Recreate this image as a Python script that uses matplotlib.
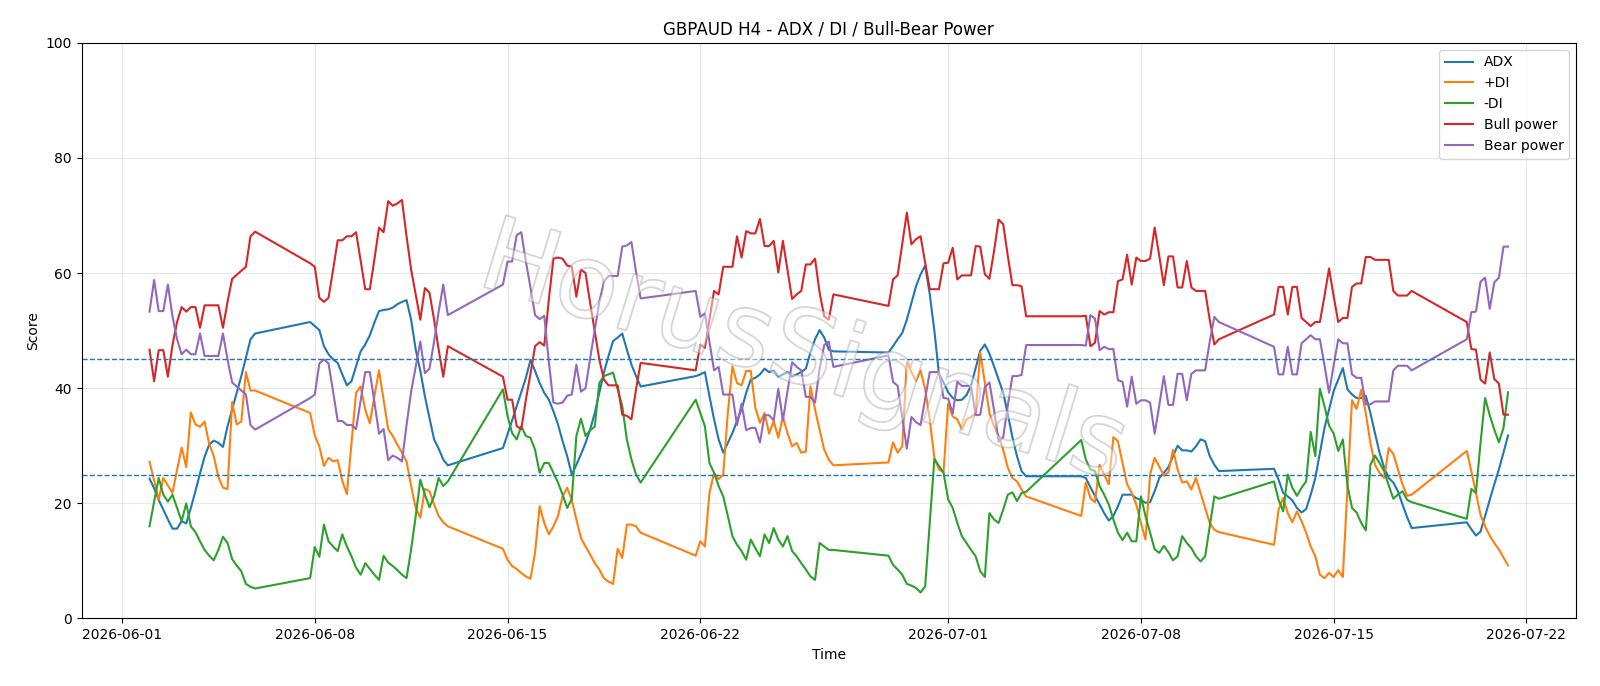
import matplotlib
matplotlib.use("Agg")
import matplotlib.pyplot as plt
import matplotlib.dates as mdates
import matplotlib.patheffects as pe
import pandas as pd

# Each trading-week block of H4 bars: start time and number of bars
week_starts = ["2026-06-02 00:00", "2026-06-07 20:00", "2026-06-14 20:00", "2026-06-21 20:00",
               "2026-06-28 20:00", "2026-07-05 20:00", "2026-07-12 20:00", "2026-07-19 20:00"]
week_bars = [24, 31, 31, 31, 31, 31, 31, 10]

adx = [
    24.3, 22.6, 20.6, 18.9, 17.2, 15.6, 15.6, 16.9, 16.5, 19.2, 22.1, 25.2, 28.1, 30.2, 30.9, 30.5,
    29.8, 33.4, 36.3, 39.2, 42.1, 45.3, 48.5, 49.5,
    51.5, 50.8, 50.1, 47.3, 45.9, 45.0, 44.4, 42.4, 40.5, 41.2, 43.8, 46.4, 47.6, 49.2, 51.4, 53.4,
    53.6, 53.7, 54.0, 54.6, 55.0, 55.3, 51.9, 46.7, 43.0, 38.6, 34.8, 31.1, 29.5, 27.6, 26.6,
    29.6, 32.0, 34.4, 36.9, 39.3, 41.8, 44.9, 43.0, 40.9, 39.2, 38.0, 36.0, 33.7, 30.8, 28.2, 25.0,
    26.7, 28.5, 30.5, 32.8, 35.7, 39.2, 42.7, 45.6, 48.2, 48.8, 49.5, 46.7, 44.1, 42.1, 40.3,
    42.1, 42.4, 42.8, 38.6, 34.6, 31.1, 28.8, 30.5, 32.2, 34.3, 36.3, 39.2, 41.5, 41.8, 42.4, 43.4,
    42.8, 43.1, 42.0, 42.4, 42.8, 42.0, 42.4, 42.8, 43.4, 46.2, 48.5, 50.1, 48.8, 46.7, 46.4,
    46.2, 47.3, 48.5, 49.6, 51.9, 54.8, 57.7, 59.8, 61.3, 56.3, 50.0, 42.5, 41.0, 39.3, 38.3, 37.9,
    38.0, 38.8, 40.5, 43.5, 46.5, 47.6, 46.0, 43.8, 41.5, 39.2, 35.5, 31.5, 28.2, 25.6, 24.7,
    24.7, 24.4, 22.8, 21.3, 19.8, 18.3, 17.0, 17.8, 19.5, 21.5, 21.5, 21.5, 20.9, 20.6, 20.1, 20.2,
    22.1, 24.4, 25.3, 26.3, 28.2, 30.0, 29.2, 29.2, 29.0, 29.9, 31.1, 30.8, 28.2, 26.7, 25.6,
    26.0, 24.1, 21.8, 21.2, 20.5, 19.2, 18.4, 19.0, 21.5, 24.4, 28.8, 33.1, 36.3, 39.5, 41.5, 43.5,
    39.8, 38.9, 38.3, 38.3, 38.7, 35.7, 32.2, 28.8, 26.2, 24.4, 23.6, 22.1, 19.8, 17.6, 15.7,
    16.7, 15.5, 14.4, 15.1, 17.8, 20.6, 23.3, 25.9, 28.8, 31.8,
]

plus_di = [
    27.2, 24.0, 20.6, 24.4, 23.1, 21.8, 25.8, 29.7, 26.3, 35.8, 33.7, 33.3, 34.2, 30.3, 28.2, 24.6,
    22.7, 22.5, 37.6, 33.7, 34.2, 42.8, 39.6, 39.6,
    35.7, 31.8, 29.9, 26.5, 27.9, 27.3, 27.5, 23.9, 21.6, 30.5, 39.2, 40.3, 36.3, 33.9, 38.6, 43.1,
    38.0, 32.9, 31.7, 30.2, 28.8, 27.3, 23.0, 19.2, 17.5, 22.5, 22.1, 19.8, 17.8, 16.7, 16.0,
    12.1, 10.2, 9.1, 8.6, 7.9, 7.3, 6.9, 11.4, 19.5, 16.6, 14.6, 16.0, 17.8, 21.2, 22.7, 20.6,
    17.2, 14.0, 12.5, 11.1, 9.6, 8.5, 7.0, 6.4, 6.0, 12.1, 10.5, 16.3, 16.3, 16.0, 14.9,
    10.9, 13.4, 12.5, 21.8, 25.3, 24.2, 25.0, 35.7, 43.8, 40.9, 40.5, 43.0, 43.0, 36.6, 34.0, 35.7,
    32.1, 34.3, 31.4, 35.0, 32.2, 29.9, 30.5, 28.8, 29.0, 40.3, 36.3, 32.8, 29.3, 27.6, 26.6,
    27.1, 30.6, 28.8, 29.9, 44.5, 42.8, 41.2, 43.1, 39.8, 34.6, 27.9, 25.9, 25.4, 37.3, 35.1, 34.6,
    32.8, 34.6, 35.0, 35.7, 46.2, 40.9, 35.7, 33.4, 31.7, 29.3, 26.2, 24.4, 23.8, 22.4, 21.2,
    17.8, 23.6, 20.9, 20.2, 26.7, 25.0, 23.3, 31.5, 30.8, 27.0, 23.3, 21.8, 19.8, 16.6, 13.7, 25.0,
    27.9, 26.4, 24.8, 25.4, 29.3, 25.9, 23.6, 23.8, 22.4, 24.4, 21.8, 19.2, 16.6, 15.4, 15.0,
    12.8, 18.9, 20.9, 18.3, 16.7, 18.6, 16.9, 14.9, 12.5, 10.8, 7.6, 7.0, 7.9, 7.2, 8.4, 7.2,
    22.7, 37.9, 36.4, 39.7, 35.7, 30.5, 26.7, 25.3, 24.4, 29.6, 28.6, 25.9, 23.3, 21.3, 21.5,
    29.1, 25.6, 21.8, 18.0, 16.0, 14.4, 13.1, 12.0, 10.6, 9.2,
]

minus_di = [
    16.0, 20.3, 24.4, 21.5, 20.3, 21.5, 19.2, 16.9, 20.0, 16.0, 15.0, 13.4, 11.9, 10.9, 10.1, 11.9,
    14.2, 13.1, 10.3, 9.2, 8.2, 6.0, 5.5, 5.2,
    7.0, 12.4, 10.7, 16.3, 13.4, 12.5, 11.7, 14.6, 12.5, 10.8, 8.8, 7.6, 9.6, 8.6, 7.6, 6.7,
    10.9, 9.7, 9.1, 8.4, 7.6, 7.0, 12.0, 17.8, 24.1, 21.5, 19.3, 21.2, 24.4, 23.0, 23.8,
    39.8, 35.2, 32.2, 31.1, 33.4, 31.7, 31.4, 29.3, 25.3, 27.0, 27.0, 25.3, 23.6, 21.5, 19.2, 20.7,
    31.7, 34.7, 31.7, 32.7, 33.3, 40.9, 42.1, 42.4, 42.7, 39.8, 36.9, 31.1, 27.6, 25.0, 23.6,
    38.0, 35.7, 33.4, 27.0, 25.3, 23.0, 21.2, 17.8, 14.3, 12.8, 11.7, 10.2, 13.7, 12.2, 10.8, 14.6,
    13.1, 15.7, 13.7, 12.5, 14.3, 11.7, 10.8, 9.6, 8.5, 7.3, 6.7, 13.1, 12.5, 11.9, 11.9,
    10.9, 9.3, 8.5, 7.6, 6.0, 5.7, 5.3, 4.5, 5.6, 16.6, 27.7, 26.5, 25.3, 20.7, 19.2, 16.6,
    14.3, 13.1, 11.9, 10.8, 8.2, 7.2, 18.3, 17.2, 16.6, 18.9, 21.5, 21.9, 20.4, 21.8, 22.0,
    31.0, 27.6, 25.9, 25.6, 23.0, 21.5, 19.8, 17.2, 14.9, 13.6, 14.9, 13.4, 13.4, 21.2, 17.8, 14.9,
    12.0, 11.4, 12.6, 11.5, 10.1, 10.8, 14.3, 13.1, 12.2, 10.8, 9.9, 10.8, 16.0, 21.2, 20.8,
    23.8, 20.6, 18.6, 25.0, 22.7, 21.3, 22.7, 23.8, 32.4, 28.2, 39.9, 36.9, 33.5, 32.1, 29.1, 31.1,
    23.1, 19.2, 18.4, 16.6, 15.3, 26.7, 28.3, 27.0, 25.6, 23.1, 20.8, 21.5, 22.1, 20.6, 20.2,
    17.3, 22.5, 21.8, 30.5, 38.3, 35.3, 32.8, 30.6, 33.1, 39.3,
]

bull_power = [
    46.7, 41.2, 46.6, 46.6, 42.0, 47.5, 51.5, 54.1, 53.3, 54.1, 54.1, 50.5, 54.4, 54.4, 54.4, 54.4,
    50.5, 55.0, 59.0, 59.7, 60.4, 61.1, 66.4, 67.2,
    61.7, 61.1, 55.7, 55.0, 55.7, 60.6, 65.7, 65.7, 66.4, 66.4, 67.1, 62.1, 57.2, 57.2, 62.4, 67.9,
    67.1, 72.5, 71.7, 72.1, 72.7, 66.4, 60.6, 56.3, 51.9, 57.4, 56.6, 51.9, 46.7, 42.0, 47.3,
    42.0, 38.0, 38.0, 33.4, 32.9, 38.0, 42.5, 47.3, 48.0, 47.4, 55.4, 62.5, 62.7, 62.5, 61.3, 61.1,
    55.9, 60.6, 60.0, 54.8, 49.9, 45.0, 41.5, 40.5, 40.5, 40.5, 35.4, 35.2, 34.6, 39.8, 44.4,
    43.1, 47.6, 47.0, 51.9, 56.9, 56.3, 61.1, 61.1, 61.1, 66.4, 62.7, 67.3, 66.9, 66.9, 69.4, 64.7,
    64.7, 65.6, 60.1, 65.6, 60.6, 55.5, 56.3, 56.9, 61.5, 61.5, 62.5, 56.6, 52.5, 51.9, 56.3,
    54.3, 58.9, 59.6, 65.0, 70.5, 65.0, 65.9, 66.4, 61.8, 57.2, 57.2, 57.2, 61.7, 61.8, 64.4, 58.9,
    59.6, 59.6, 59.6, 64.7, 64.6, 59.8, 59.0, 63.8, 69.3, 68.5, 63.0, 57.9, 57.9, 57.7, 52.5,
    52.5, 52.6, 47.3, 47.9, 53.4, 52.8, 53.2, 53.2, 58.6, 58.9, 63.2, 58.0, 62.7, 62.1, 62.1, 62.5,
    67.9, 63.0, 57.9, 62.9, 62.9, 57.5, 57.5, 62.1, 57.5, 56.9, 56.9, 56.9, 51.9, 47.6, 48.5,
    52.8, 57.6, 57.6, 52.8, 57.6, 57.6, 52.2, 51.5, 50.8, 51.5, 51.5, 56.0, 60.8, 56.0, 51.5, 52.2,
    52.2, 57.6, 58.2, 58.2, 62.8, 62.8, 62.3, 62.3, 62.3, 62.3, 56.9, 56.1, 56.1, 56.1, 56.9,
    51.5, 46.8, 46.7, 41.5, 40.8, 46.2, 41.6, 40.8, 35.4, 35.4,
]

bear_power = [
    53.3, 58.8, 53.4, 53.4, 58.0, 52.5, 48.5, 45.9, 46.7, 45.9, 45.9, 49.5, 45.6, 45.6, 45.6, 45.6,
    49.5, 45.0, 41.0, 40.3, 39.6, 38.9, 33.6, 32.8,
    38.3, 38.9, 44.3, 45.0, 44.3, 39.4, 34.3, 34.3, 33.6, 33.6, 32.9, 37.9, 42.8, 42.8, 37.6, 32.1,
    32.9, 27.5, 28.3, 27.9, 27.3, 33.6, 39.4, 43.7, 48.1, 42.6, 43.4, 48.1, 53.3, 58.0, 52.7,
    58.0, 62.0, 62.0, 66.6, 67.1, 62.0, 57.5, 52.7, 52.0, 52.6, 44.6, 37.5, 37.3, 37.5, 38.7, 38.9,
    44.1, 39.4, 40.0, 45.2, 50.1, 55.0, 58.5, 59.5, 59.5, 59.5, 64.6, 64.8, 65.4, 60.2, 55.6,
    56.9, 52.4, 53.0, 48.1, 43.1, 43.7, 38.9, 38.9, 38.9, 33.6, 37.3, 32.7, 33.1, 33.1, 30.6, 35.3,
    35.3, 34.4, 39.9, 34.4, 39.4, 44.5, 43.7, 43.1, 38.5, 38.5, 37.5, 43.4, 47.5, 48.1, 43.7,
    45.7, 41.1, 40.4, 35.0, 29.5, 35.0, 34.1, 33.6, 38.2, 42.8, 42.8, 42.8, 38.3, 38.2, 35.6, 41.1,
    40.4, 40.4, 40.4, 35.3, 35.4, 40.2, 41.0, 36.2, 30.7, 31.5, 37.0, 42.1, 42.1, 42.3, 47.5,
    47.5, 47.4, 52.7, 52.1, 46.6, 47.2, 46.8, 46.8, 41.4, 41.1, 36.8, 42.0, 37.3, 37.9, 37.9, 37.5,
    32.1, 37.0, 42.1, 37.1, 37.1, 42.5, 42.5, 37.9, 42.5, 43.1, 43.1, 43.1, 48.1, 52.4, 51.5,
    47.2, 42.4, 42.4, 47.2, 42.4, 42.4, 47.8, 48.5, 49.2, 48.5, 48.5, 44.0, 39.2, 44.0, 48.5, 47.8,
    47.8, 42.4, 41.8, 41.8, 37.2, 37.2, 37.7, 37.7, 37.7, 37.7, 43.1, 43.9, 43.9, 43.9, 43.1,
    48.5, 53.2, 53.3, 58.5, 59.2, 53.8, 58.4, 59.2, 64.6, 64.6,
]

series = [("ADX", adx), ("+DI", plus_di), ("-DI", minus_di),
          ("Bull power", bull_power), ("Bear power", bear_power)]

times = pd.DatetimeIndex([])
for start, n in zip(week_starts, week_bars):
    times = times.append(pd.date_range(start, periods=n, freq="4h"))

fig = plt.figure(figsize=(16, 6.86), dpi=100)
ax = fig.add_axes([0.051, 0.0985, 0.934, 0.839])

for label, vals in series:
    n = min(len(times), len(vals))
    ax.plot(times[:n], vals[:n], label=label, lw=1.5)

ax.axhline(25, ls="--", lw=1.0, color="#1f77b4")
ax.axhline(45, ls="--", lw=1.0, color="#1f77b4")

ax.set_ylim(0, 100)
ax.set_title("GBPAUD H4 - ADX / DI / Bull-Bear Power", fontsize=12)
ax.set_xlabel("Time")
ax.set_ylabel("Score")
ax.grid(True, alpha=0.3)
ax.xaxis.set_major_formatter(mdates.DateFormatter("%Y-%m-%d"))
ax.legend(loc="upper right")

ax.text(0.483, 0.458, "HorusSignals", transform=ax.transAxes, fontsize=74,
        rotation=-17, ha="center", va="center", rotation_mode="anchor",
        color=(1, 1, 1, 0.12), zorder=5,
        path_effects=[pe.Stroke(linewidth=1.3, foreground=(0.55, 0.55, 0.55), alpha=0.38),
                      pe.Normal()])

fig.savefig("out.png", dpi=100)
